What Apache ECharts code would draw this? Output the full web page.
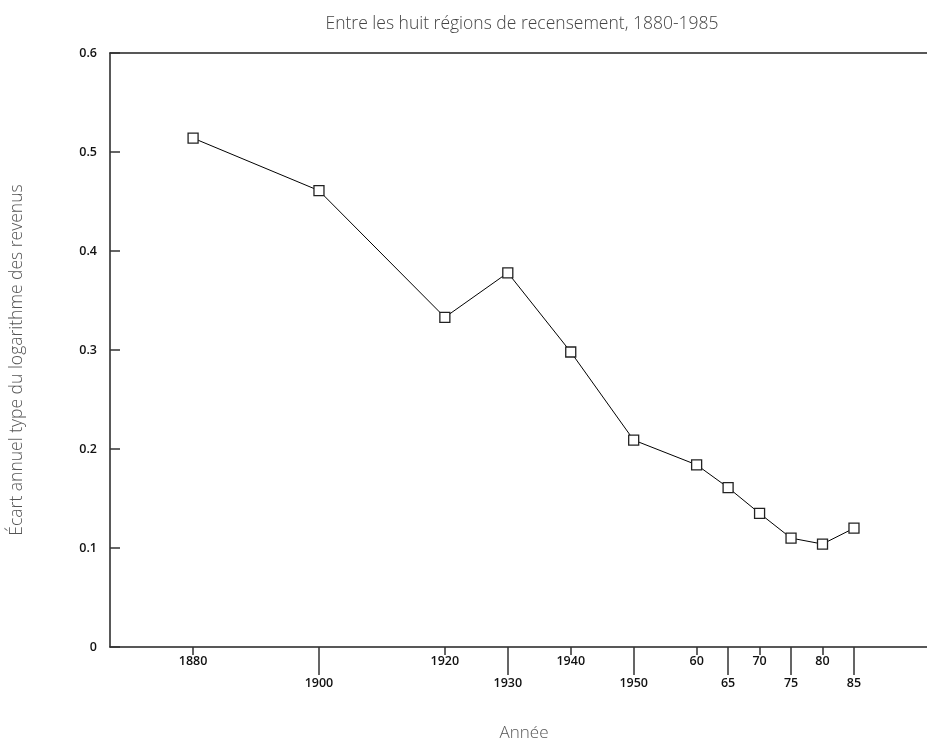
<!DOCTYPE html>
<html>
<head>
<meta charset="utf-8">
<script src="https://cdn.jsdelivr.net/npm/echarts@6/dist/echarts.min.js"></script>
<style>
  html, body { margin: 0; padding: 0; background: #fff; }
  #chart { width: 927px; height: 739px; }
</style>
</head>
<body>
<div id="chart"></div>
<script>
  var years = [1880, 1900, 1920, 1930, 1940, 1950, 1960, 1965, 1970, 1975, 1980, 1985];
  var values = [0.514, 0.461, 0.333, 0.378, 0.298, 0.209, 0.184, 0.161, 0.135, 0.110, 0.104, 0.120];

  // alternating rows of year labels under the axis
  var upperTicks = [1880, 1920, 1940, 1960, 1970, 1980];
  var upperLabels = ['1880', '1920', '1940', '60', '70', '80'];
  var lowerTicks = [1900, 1930, 1950, 1965, 1975, 1985];
  var lowerLabels = ['1900', '1930', '1950', '65', '75', '85'];

  var chartDom = document.getElementById('chart');
  var chart = echarts.init(chartDom);

  var xMin = 1866.8, xMax = 1996.6;
  var tickFont = {
    fontFamily: 'Open Sans',
    fontSize: 12.5,
    fontWeight: 600,
    color: '#111'
  };

  function lookup(ticks, labels) {
    return function (v) {
      var i = ticks.indexOf(Math.round(v));
      return i >= 0 ? labels[i] : '';
    };
  }

  var options = {
    animation: false,
    title: [
      {
        text: 'Entre les huit régions de recensement, 1880-1985',
        left: 517,
        top: 10,
        textAlign: 'center',
        textStyle: {
          fontFamily: 'Open Sans',
          fontSize: 17.5,
          fontWeight: 300,
          color: '#444'
        }
      },
      {
        text: 'Année',
        left: 519,
        top: 720,
        textAlign: 'center',
        textStyle: {
          fontFamily: 'Open Sans',
          fontSize: 17,
          fontWeight: 300,
          color: '#555'
        }
      }
    ],
    grid: {
      left: 110,
      right: 0,
      top: 53,
      bottom: 92
    },
    xAxis: [
      {
        type: 'value',
        position: 'bottom',
        min: xMin,
        max: xMax,
        axisLine: { lineStyle: { color: '#222', width: 1.5 } },
        splitLine: { show: false },
        axisTick: {
          customValues: upperTicks,
          length: 8,
          lineStyle: { color: '#333', width: 1.5 }
        },
        axisLabel: Object.assign({
          customValues: upperTicks,
          margin: 8,
          formatter: lookup(upperTicks, upperLabels)
        }, tickFont)
      },
      {
        type: 'value',
        position: 'bottom',
        offset: 0,
        min: xMin,
        max: xMax,
        axisLine: { show: false },
        splitLine: { show: false },
        axisTick: {
          customValues: lowerTicks,
          length: 28,
          lineStyle: { color: '#333', width: 1.5 }
        },
        axisLabel: Object.assign({
          customValues: lowerTicks,
          margin: 30,
          formatter: lookup(lowerTicks, lowerLabels)
        }, tickFont)
      },
      {
        type: 'value',
        position: 'top',
        min: xMin,
        max: xMax,
        axisLine: { lineStyle: { color: '#222', width: 1.5 } },
        axisTick: { show: false },
        axisLabel: { show: false },
        splitLine: { show: false }
      }
    ],
    yAxis: {
      type: 'value',
      min: 0,
      max: 0.6,
      interval: 0.1,
      name: 'Écart annuel type du logarithme des revenus',
      nameLocation: 'middle',
      nameGap: 84,
      nameTextStyle: {
        fontFamily: 'Open Sans',
        fontSize: 17.5,
        fontWeight: 300,
        color: '#555',
        padding: [0, 20, 0, 0]
      },
      axisLine: { show: true, lineStyle: { color: '#222', width: 1.5 } },
      axisTick: {
        show: true,
        inside: true,
        length: 10,
        lineStyle: { color: '#333', width: 1.5 }
      },
      splitLine: { show: false },
      axisLabel: Object.assign({
        margin: 13,
        formatter: function (v) {
          return v === 0 ? '0' : v.toFixed(1);
        }
      }, tickFont)
    },
    series: [
      {
        type: 'line',
        xAxisIndex: 0,
        data: years.map(function (y, i) { return [y, values[i]]; }),
        symbol: 'rect',
        symbolSize: 10,
        showAllSymbol: true,
        lineStyle: { color: '#000', width: 1 },
        itemStyle: { color: '#fff', borderColor: '#222', borderWidth: 1.3 }
      }
    ]
  };

  chart.setOption(options, true);
</script>
</body>
</html>
